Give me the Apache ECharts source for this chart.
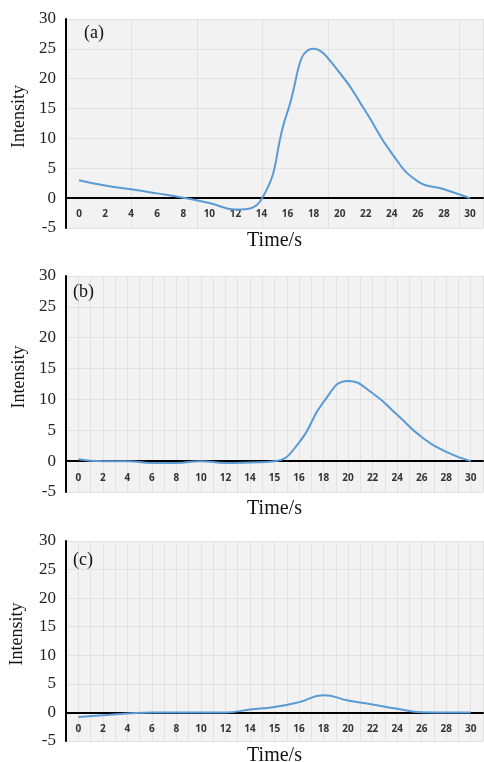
<!DOCTYPE html>
<html>
<head>
<meta charset="utf-8">
<script src="https://cdn.jsdelivr.net/npm/echarts@6/dist/echarts.min.js"></script>
<style>
html,body{margin:0;padding:0;background:#fff;}
#main{width:484px;height:762px;}
</style>
</head>
<body>
<div id="main"></div>
<script>
// time labels (s)
var timesA = ['0','2','4','6','8','10','12','14','16','18','20','22','24','26','28','30'];
var timesBC = ['0','2','4','6','8','10','12','14','15','16','18','20','22','24','26','28','30'];

// intensity
var intensityA = [3.0, 2.1, 1.5, 0.8, 0.05, -0.8, -1.9, -0.2, 14.5, 25, 21, 14.5, 7.5, 2.8, 1.5, 0];
var intensityB = [0.3, 0, 0, -0.3, -0.3, 0, -0.3, -0.2, 0, 3, 9.6, 13, 11, 7.5, 3.9, 1.5, 0];
var intensityC = [-0.8, -0.5, -0.2, 0, 0, 0, 0, 0.5, 0.95, 1.8, 3.0, 2.1, 1.4, 0.65, 0.05, 0, 0];

var panelNames = ['(a)', '(b)', '(c)'];
var yTicks = [-5, 30, 5];

var serif = 'Liberation Serif';
var lineColor = '#5b9bd5';
var gridColor = '#e2e2e2';

var grids = [
    {left: 66, right: 1, top: 19, height: 209},
    {left: 66, right: 1, top: 276, height: 216},
    {left: 66, right: 1, top: 541, height: 200}
];
var nameGapsY = [32, 33, 40];
var nameGapsX = [3, 7, 5];
var labelMargins = [-19, -19, -17];
var labelPos = [[84, 24], [73, 283], [73, 551]];
var vLines = [417 / 65.5, 34, 34];

var myChart = echarts.init(document.getElementById('main'));

var option = {
    animation: false,
    title: [],
    grid: [],
    xAxis: [],
    yAxis: [],
    series: []
};

var cats = [timesA, timesBC, timesBC];
var vals = [intensityA, intensityB, intensityC];

for (var i = 0; i < 3; i++) {
    option.title.push({
        text: panelNames[i],
        left: labelPos[i][0],
        top: labelPos[i][1],
        padding: 0,
        textStyle: {fontFamily: serif, fontSize: 18, fontWeight: 'normal', color: '#111'}
    });
    option.grid.push({
        left: grids[i].left, right: grids[i].right, top: grids[i].top, height: grids[i].height,
        outerBoundsMode: 'none',
        containLabel: false,
        show: true, backgroundColor: '#f2f2f2', borderWidth: 0
    });
    // category axis, line on zero, labels pulled up just under it
    option.xAxis.push({
        type: 'category',
        gridIndex: i,
        data: cats[i],
        boundaryGap: true,
        name: 'Time/s',
        nameLocation: 'middle',
        nameGap: nameGapsX[i],
        nameTextStyle: {fontFamily: serif, fontSize: 20, color: '#111', verticalAlign: 'top'},
        axisLine: {onZero: true, lineStyle: {color: '#000', width: 2}},
        axisTick: {show: false},
        axisLabel: {interval: 0, margin: labelMargins[i], fontFamily: 'Open Sans', fontWeight: 'bold', fontSize: 10, color: '#333'},
        splitLine: {show: false}
    });
    // hidden axis only for the vertical grid lines
    option.xAxis.push({
        type: 'value',
        gridIndex: i,
        min: 0,
        max: vLines[i],
        interval: 1,
        position: 'top',
        axisLine: {show: false},
        axisTick: {show: false},
        axisLabel: {show: false},
        splitLine: {show: true, lineStyle: {color: gridColor, width: 1}}
    });
    option.yAxis.push({
        type: 'value',
        gridIndex: i,
        min: yTicks[0],
        max: yTicks[1],
        interval: yTicks[2],
        name: 'Intensity',
        nameLocation: 'middle',
        nameGap: nameGapsY[i],
        nameTextStyle: {fontFamily: serif, fontSize: 18, color: '#111', padding: [0, 0, 0, 14]},
        axisLine: {show: true, onZero: false, lineStyle: {color: '#000', width: 2}},
        axisTick: {show: false},
        axisLabel: {fontFamily: serif, fontSize: 17, color: '#222', margin: 10},
        splitLine: {show: true, lineStyle: {color: gridColor, width: 1}}
    });
    option.series.push({
        type: 'line',
        xAxisIndex: i * 2,
        yAxisIndex: i,
        data: vals[i],
        smooth: 0.5,
        symbol: 'none',
        lineStyle: {color: lineColor, width: 2}
    });
}

// 使用刚指定的配置项和数据显示图表。
myChart.setOption(option);
</script>
</body>
</html>
